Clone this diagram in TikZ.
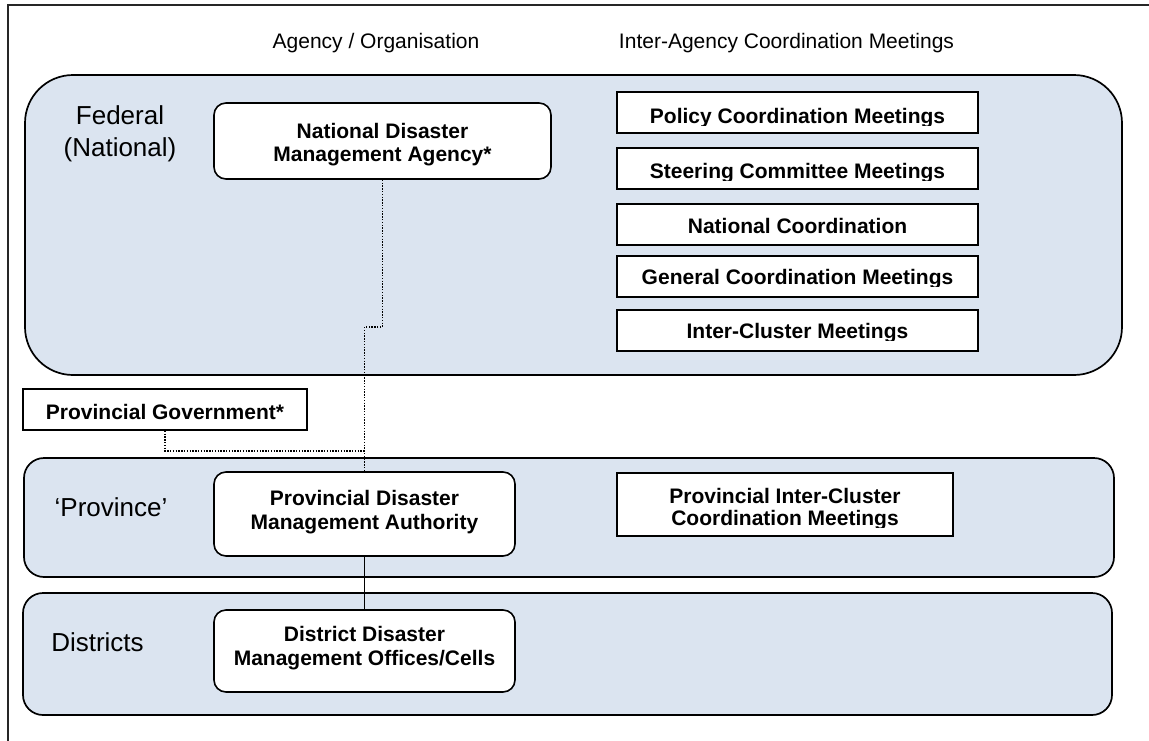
\documentclass[tikz,border=0pt]{standalone}
\usepackage{fontspec}
\setmainfont{Liberation Sans}
\definecolor{lvl}{HTML}{DBE4F0}
\begin{document}
\begin{tikzpicture}[x=1pt,y=-1pt,
  level/.style={draw=black, line width=1.7pt, fill=lvl, inner sep=0pt},
  agency/.style={draw=black, line width=1.6pt, fill=white, rounded corners=12pt, inner sep=0pt},
  agencytext/.style={align=center, font=\bfseries\fontsize{21}{23.5}\selectfont, inner sep=0pt, anchor=north},
  meet/.style={draw=black, line width=1.7pt, fill=white, inner sep=0pt},
  meettext/.style={font=\bfseries\fontsize{21}{22}\selectfont, align=center, anchor=base, inner sep=0pt},
  lbl/.style={font=\fontsize{26}{32}\selectfont, align=center, inner sep=0pt},
  hdr/.style={font=\fontsize{21}{24}\selectfont, anchor=base, inner sep=0pt},
  dotline/.style={line width=1.5pt, dash pattern=on 1.4pt off 1.4pt},
  solidline/.style={line width=1.6pt},
]
\useasboundingbox (0,0) rectangle (1149,740);
\clip (0,0) rectangle (1149,740);
% outer frame
\draw[line width=1.4pt, draw=black!85] (8,760) -- (8,5) -- (1170,5);

% headers
\node[hdr] (h1) at (376,48) {Agency / Organisation};
\node[hdr] (h2) at (786.5,48) {Inter-Agency Coordination Meetings};

% level bands
\node[level, rounded corners=48pt, minimum width=1097, minimum height=300] (fed) at (573.5,225) {};
\node[level, rounded corners=20pt, minimum width=1090, minimum height=119] (prov) at (569,517.5) {};
\node[level, rounded corners=20pt, minimum width=1089, minimum height=122] (dist) at (567.5,654) {};

% level labels
\node[lbl, anchor=north] (lfed) at (120,105) {Federal\\(National)};
\node[lbl, anchor=base] (lprov) at (111,516) {‘Province’};
\node[lbl, anchor=base] (ldist) at (97.5,651) {Districts};

% agencies
\node[agency, minimum width=337, minimum height=76] (ndma) at (382.5,141) {};
\node[agencytext] (ndmat) at (382.5,123) {National Disaster\\Management Agency*};
\node[agency, minimum width=301, minimum height=84] (pdma) at (364.5,514) {};
\node[agencytext, font=\bfseries\fontsize{21}{24}\selectfont] (pdmat) at (364.5,490) {Provincial Disaster\\Management Authority};
\node[agency, minimum width=301, minimum height=82] (ddmo) at (364.5,651) {};
\node[agencytext, font=\bfseries\fontsize{21}{24}\selectfont] (ddmot) at (364.5,626) {District Disaster\\Management Offices/Cells};
\node[meet, minimum width=284, minimum height=41] (pg) at (165,409.5) {};
\node[meettext] (pgt) at (165,419) {Provincial Government*};

% meeting boxes
\node[meet, minimum width=361, minimum height=41] (m1) at (797.5,112.5) {};
\node[meet, minimum width=361, minimum height=41] (m2) at (797.5,168.5) {};
\node[meet, minimum width=361, minimum height=41] (m3) at (797.5,224.5) {};
\node[meet, minimum width=361, minimum height=41] (m4) at (797.5,276.5) {};
\node[meet, minimum width=361, minimum height=41] (m5) at (797.5,330.5) {};
\node[meet, minimum width=336, minimum height=63] (m6) at (785,504.5) {};

\begin{scope}
\clip (617,92) rectangle (978,125);
\node[meettext] (t1) at (797.5,123) {Policy Coordination Meetings};
\end{scope}
\begin{scope}
\clip (617,148) rectangle (978,180);
\node[meettext] (t2) at (797.5,178) {Steering Committee Meetings};
\end{scope}
\begin{scope}
\clip (617,204) rectangle (978,234);
\node[meettext] (t3) at (797.5,233) {National Coordination};
\end{scope}
\begin{scope}
\clip (617,256) rectangle (978,286);
\node[meettext] (t4) at (797.5,284) {General Coordination Meetings};
\end{scope}
\begin{scope}
\clip (617,310) rectangle (978,340);
\node[meettext] (t5) at (797.5,338) {Inter-Cluster Meetings};
\end{scope}
\begin{scope}
\clip (617,473) rectangle (953,527);
\node[meettext] (t6a) at (785,503) {Provincial Inter-Cluster};
\node[meettext] (t6b) at (785,525) {Coordination Meetings};
\end{scope}

% connectors
\coordinate (jy) at (0,451);
\coordinate (j) at (pdma.north |- jy);
\draw[dotline] (ndma.south) -- ++(0,147) -| (pdma.north);
\draw[dotline] (pg.south) |- (j);
\draw[solidline] (pdma.south) -- (ddmo.north);
\end{tikzpicture}
\end{document}
